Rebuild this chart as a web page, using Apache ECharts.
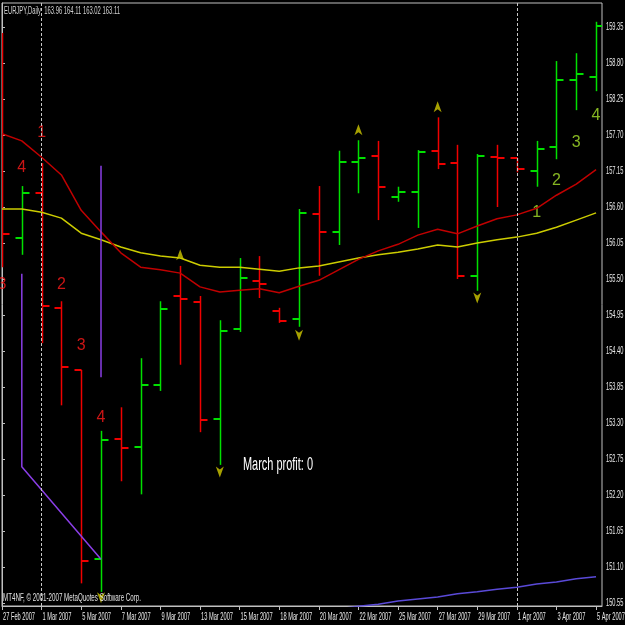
<!DOCTYPE html>
<html><head><meta charset="utf-8">
<script src="https://cdn.jsdelivr.net/npm/echarts@6/dist/echarts.min.js"></script>
<style>html,body{margin:0;padding:0;background:#000;}#c{width:625px;height:625px;}</style>
</head><body><div id="c"></div>
<script>
// ---- data ----
const dates = ['27 Feb 2007','28 Feb 2007','1 Mar 2007','2 Mar 2007','5 Mar 2007','6 Mar 2007','7 Mar 2007','8 Mar 2007','9 Mar 2007','12 Mar 2007','13 Mar 2007','14 Mar 2007','15 Mar 2007','16 Mar 2007','18 Mar 2007','19 Mar 2007','20 Mar 2007','21 Mar 2007','22 Mar 2007','23 Mar 2007','25 Mar 2007','26 Mar 2007','27 Mar 2007','28 Mar 2007','29 Mar 2007','30 Mar 2007','1 Apr 2007','2 Apr 2007','3 Apr 2007','4 Apr 2007','5 Apr 2007'];
const openP  = [159.10,156.13,156.81,155.06,154.11,151.22,153.05,152.93,153.88,155.24,155.15,153.36,154.74,155.47,155.01,154.89,156.49,156.22,157.29,157.38,156.75,156.83,157.46,157.27,155.55,157.36,157.35,157.15,157.52,158.54,158.59];
const highP  = [159.26,156.92,157.27,155.16,154.11,153.18,153.54,154.29,155.16,155.70,155.24,154.87,155.82,155.85,155.06,156.57,156.92,157.46,157.62,157.61,156.91,157.47,157.97,157.55,157.41,157.55,157.35,157.61,158.83,158.95,159.43];
const lowP   = [155.68,155.87,154.52,153.57,150.85,150.72,152.41,152.21,153.79,154.19,153.16,152.66,154.69,155.21,154.83,154.77,155.55,156.02,156.81,156.40,156.68,156.28,157.18,155.50,155.32,156.60,157.13,156.91,157.33,158.08,158.37];
const closeP = [156.19,156.81,155.09,154.16,151.19,153.04,152.92,153.88,155.04,155.19,153.35,154.71,155.52,155.42,154.86,156.51,156.22,157.29,157.35,156.91,156.83,157.44,157.26,155.55,157.38,157.35,157.18,157.49,158.54,158.63,159.37];
const maRed    = [157.72,157.61,157.36,157.09,156.55,156.22,155.90,155.68,155.64,155.59,155.38,155.30,155.33,155.35,155.29,155.39,155.48,155.64,155.80,155.93,156.03,156.17,156.26,156.19,156.31,156.42,156.48,156.58,156.78,156.95,157.17];
const maYellow = [156.57,156.57,156.52,156.43,156.20,156.10,155.99,155.90,155.85,155.82,155.71,155.68,155.68,155.65,155.62,155.67,155.70,155.76,155.82,155.87,155.91,155.96,156.02,155.99,156.05,156.10,156.14,156.20,156.29,156.40,156.51];
const slowLineX = [17,18,19,20,21,22,23,24,25,26,27,28,29,30];
const slowLineY = [150.46,150.50,150.53,150.58,150.61,150.64,150.69,150.72,150.76,150.79,150.84,150.87,150.92,150.95];
const zigA = [[1,155.58],[1,152.63],[5,151.22]];
const zigB = [[5,157.23],[5,154.00]];
const waveRedX = [0,1,2,3,4,5];
const waveRedY = [155.41,157.20,157.73,155.41,154.49,153.39];
const waveRedText = ['3','4','1','2','3','4'];
const waveGreenX = [27,28,29,30];
const waveGreenY = [156.52,157.00,157.58,158.00];
const waveGreenText = ['1','2','3','4'];
const upArrowX = [9,18,22];
const upArrowY = [155.87,157.78,158.13];
const downArrowX = [5,11,15,24];
const downArrowY = [150.63,152.55,154.64,155.21];
const separatorsX = [2,26];
const yTicks = [150.55,151.10,151.65,152.20,152.75,153.30,153.85,154.40,154.95,155.50,156.05,156.60,157.15,157.70,158.25,158.80,159.35];
const xTicks = [0,2,4,6,8,10,12,14,16,18,20,22,24,26,28,30];
const titleText = 'EURJPY,Daily  163.96 164.11 163.02 163.11';
const profitText = 'March profit: 0';
const copyText = 'MT4NF, \u00A9 2001-2007 MetaQuotes Software Corp.';

// ---- styling ----
const BULL = '#00e000', BEAR = '#f00000';
const Y_MIN = 150.504, Y_MAX = 159.717;
function fitScale(text, font, target){
  const ctx = document.createElement('canvas').getContext('2d');
  ctx.font = font; return target / ctx.measureText(text).width;
}

const chart = echarts.init(document.getElementById('c'), null, {renderer:'canvas'});

function renderBar(params, api){
  const i = api.value(0), o = api.value(1), h = api.value(2), l = api.value(3), c = api.value(4);
  const pH = api.coord([i,h]), pL = api.coord([i,l]), pO = api.coord([i,o]), pC = api.coord([i,c]);
  const x = Math.round(pH[0]) + 0.5;
  const col = c > o ? BULL : BEAR;
  return {type:'group', children:[
    {type:'line', shape:{x1:x, y1:pH[1], x2:x, y2:pL[1]}, style:{stroke:col, lineWidth:1.5}},
    {type:'line', shape:{x1:x-7, y1:Math.round(pO[1]), x2:x, y2:Math.round(pO[1])}, style:{stroke:col, lineWidth:2}},
    {type:'line', shape:{x1:x, y1:Math.round(pC[1]), x2:x+7, y2:Math.round(pC[1])}, style:{stroke:col, lineWidth:2}}
  ]};
}

const upPath = 'path://M5,0 L10,11 L5,8 L0,11 Z';
const downPath = 'path://M0,0 L5,3 L10,0 L5,11 Z';

const option = {
  backgroundColor:'#000',
  animation:false,
  grid:{left:2, right:23, top:3, bottom:19, containLabel:false, outerBoundsMode:'none',
        show:true, borderColor:'#c0c0c0', borderWidth:1, backgroundColor:'#000'},
  xAxis:{type:'value', min:0, max:30.3,
    splitLine:{show:false},
    axisLine:{show:true, onZero:false, lineStyle:{color:'#c0c0c0'}},
    axisTick:{show:true, customValues:xTicks, length:4, lineStyle:{color:'#c0c0c0'}},
    axisLabel:{show:false}
  },
  yAxis:{type:'value', position:'right', min:Y_MIN, max:Y_MAX, scale:true,
    splitLine:{show:false},
    axisLine:{show:true, lineStyle:{color:'#c0c0c0'}},
    axisTick:{show:true, customValues:yTicks, length:3, lineStyle:{color:'#c0c0c0'}},
    axisLabel:{show:false}
  },
  series:[
    {type:'line', name:'slow', data:slowLineX.map((x,k)=>[x,slowLineY[k]]), symbol:'none', clip:true,
     lineStyle:{color:'#5a4ad8', width:1.5}},
    {type:'line', name:'sep', data:[], markLine:{silent:true, symbol:'none', label:{show:false},
      lineStyle:{color:'#c8c8c8', type:[3,2], width:1}, data:separatorsX.map(x=>({xAxis:x}))}},
    {type:'line', name:'maYellow', data:maYellow.map((v,i)=>[i,v]), symbol:'none', clip:true,
     lineStyle:{color:'#cccc00', width:1.5}},
    {type:'line', name:'maRed', data:maRed.map((v,i)=>[i,v]), symbol:'none', clip:true,
     lineStyle:{color:'#c00000', width:1.5}},
    {type:'line', name:'zigA', data:zigA, symbol:'none', clip:true, lineStyle:{color:'#8a3ee6', width:1.5}},
    {type:'line', name:'zigB', data:zigB, symbol:'none', clip:true, lineStyle:{color:'#8a3ee6', width:1.5}},
    {type:'custom', name:'bars', renderItem:renderBar, clip:true,
     encode:{x:0, y:[1,2,3,4]},
     data:dates.map((d,i)=>[i, openP[i], highP[i], lowP[i], closeP[i]])},
    {type:'scatter', name:'up', data:upArrowX.map((x,k)=>[x,upArrowY[k]]), symbol:upPath, symbolSize:[8,11],
     itemStyle:{color:'#d0c800'}},
    {type:'scatter', name:'down', data:downArrowX.map((x,k)=>[x,downArrowY[k]]), symbol:downPath, symbolSize:[8,11],
     itemStyle:{color:'#d0c800'}},
    {type:'scatter', name:'waveRed', data:waveRedX.map((x,k)=>[x,waveRedY[k],waveRedText[k]]), symbolSize:0,
     label:{show:true, position:'inside', formatter:p=>p.data[2], color:'#ff1a1a', fontSize:16, fontFamily:'Liberation Sans'}},
    {type:'scatter', name:'waveGreen', data:waveGreenX.map((x,k)=>[x,waveGreenY[k],waveGreenText[k]]), symbolSize:0,
     label:{show:true, position:'inside', formatter:p=>p.data[2], color:'#a6e22a', fontSize:16, fontFamily:'Liberation Sans'}}
  ]
};
chart.setOption(option);

// axis labels and texts, placed through the chart's own scales (condensed like the source)
const LBL_FONT = '10px Liberation Sans';
const lblScale = fitScale('27 Feb 2007', LBL_FONT, 32);
const els = [];
xTicks.forEach((v,k)=>{
  const p = chart.convertToPixel({gridIndex:0}, [v, Y_MIN]);
  els.push({type:'text', id:'xl'+k, x:p[0]+1, y:p[1]+11, scaleX:lblScale, z:100,
    style:{text:dates[v], fill:'#e8e8e8', font:LBL_FONT, verticalAlign:'middle'}});
});
yTicks.forEach((v,k)=>{
  const p = chart.convertToPixel({gridIndex:0}, [30.3, v]);
  els.push({type:'text', id:'yl'+k, x:p[0]+4, y:p[1], scaleX:lblScale, z:100,
    style:{text:v.toFixed(2), fill:'#e8e8e8', font:LBL_FONT, verticalAlign:'middle'}});
});
els.push({type:'text', id:'title', x:4, y:11, scaleX:fitScale(titleText,'10px Liberation Sans',116), z:100,
  style:{text:titleText, fill:'#d0d0d0', font:'10px Liberation Sans', verticalAlign:'middle'}});
els.push({type:'text', id:'profit', x:243, y:465, scaleX:fitScale(profitText,'18px Liberation Sans',70), z:100,
  style:{text:profitText, fill:'#ffffff', font:'18px Liberation Sans', verticalAlign:'middle'}});
els.push({type:'text', id:'copy', x:3, y:598, scaleX:fitScale(copyText,'10px Liberation Sans',138), z:100,
  style:{text:copyText, fill:'#e0e0e0', font:'10px Liberation Sans', verticalAlign:'middle'}});
chart.setOption({graphic:{elements:els}});
</script>
</body></html>
